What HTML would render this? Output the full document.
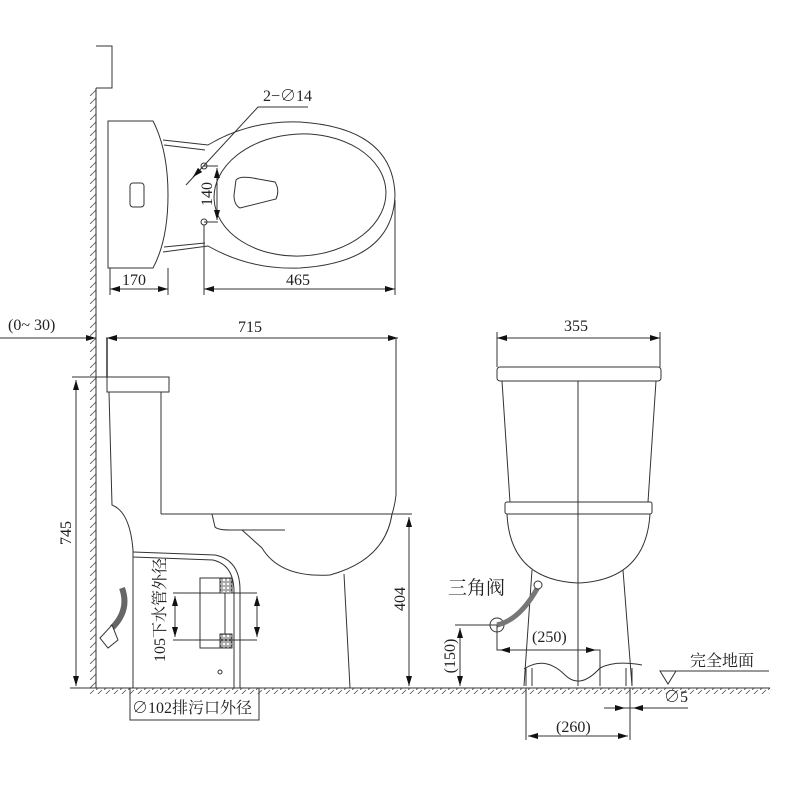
<!DOCTYPE html>
<html><head><meta charset="utf-8"><style>
html,body{margin:0;padding:0;background:#fff}
svg{display:block}
text{font-family:"Liberation Serif","Noto Serif CJK SC",serif;fill:#222}
</style></head><body>
<svg width="800" height="800" viewBox="0 0 800 800" xmlns="http://www.w3.org/2000/svg">
<defs>
<pattern id="hw" width="6" height="8" patternUnits="userSpaceOnUse"><path d="M0,8 L6,2" stroke="#555" stroke-width="0.8"/></pattern>
<pattern id="hf" width="8" height="6" patternUnits="userSpaceOnUse"><path d="M0,6 L6,0" stroke="#555" stroke-width="0.8"/></pattern>
<pattern id="mesh" width="4" height="4" patternUnits="userSpaceOnUse"><rect width="4" height="4" fill="#fff"/><circle cx="2" cy="2" r="1.2" fill="none" stroke="#333" stroke-width="0.6"/></pattern>
<marker id="a" markerWidth="10" markerHeight="6" refX="10" refY="3" orient="auto" markerUnits="userSpaceOnUse"><path d="M0,0 L10,3 L0,6z" fill="#111"/></marker>
<marker id="b" markerWidth="10" markerHeight="6" refX="0" refY="3" orient="auto" markerUnits="userSpaceOnUse"><path d="M10,0 L0,3 L10,6z" fill="#111"/></marker>
</defs>
<g fill="none" stroke="#333" stroke-width="1">
<rect x="90" y="88" width="6" height="600" fill="url(#hw)" stroke="none"/>
<line x1="96" y1="88" x2="96" y2="688"/>
<path d="M96,46 H112 V88 H96"/>
<rect x="90" y="688" width="680" height="6" fill="url(#hf)" stroke="none"/>
<line x1="90" y1="688" x2="770" y2="688"/>

<!-- TOP VIEW -->
<path d="M108,121 H153 Q168,150 168,195 Q168,240 153,268 H108 Z"/>
<rect x="130" y="183" width="14" height="24" rx="3"/>
<path d="M163,140 L208,145 Q250,120 300,122 Q393,128 395,195 Q393,262 300,268 Q250,270 208,246 L163,252"/>
<path d="M164,145 L205,150"/><path d="M164,247 L205,243"/>
<ellipse cx="300" cy="195" rx="86" ry="61" transform="rotate(-3 300 195)"/>
<path d="M236,180 Q240,175 258,179 L275,182 Q280,190 276,199 L240,208 Q234,205 234,195 Z"/>
<circle cx="204" cy="166" r="3"/><circle cx="204" cy="222" r="3"/>
<path d="M204,166 H218 M204,222 H218"/>
<line x1="217" y1="168" x2="217" y2="220" marker-start="url(#b)" marker-end="url(#a)"/>
<path d="M308,107 H258 L186,185"/>
<line x1="198" y1="172" x2="193" y2="177" marker-end="url(#a)"/>
<line x1="110" y1="268" x2="110" y2="295"/><line x1="168" y1="268" x2="168" y2="295"/>
<line x1="204" y1="225" x2="204" y2="295"/><line x1="395" y1="200" x2="395" y2="295"/>
<line x1="110" y1="289" x2="168" y2="289" marker-start="url(#b)" marker-end="url(#a)"/>
<line x1="204" y1="289" x2="395" y2="289" marker-start="url(#b)" marker-end="url(#a)"/>

<!-- SIDE VIEW -->
<line x1="0" y1="338" x2="96" y2="338"/><line x1="106" y1="338" x2="398" y2="338"/>
<line x1="86" y1="338" x2="96" y2="338" marker-end="url(#a)"/>
<line x1="118" y1="338" x2="107" y2="338" marker-end="url(#a)"/>
<line x1="107" y1="338" x2="107" y2="377" stroke-width="1.5"/>
<line x1="107" y1="338" x2="398" y2="338" marker-start="url(#b)" marker-end="url(#a)"/>
<rect x="107" y="377" width="62" height="15"/>
<path d="M109,392 L112,505 Q130,512 133,550 L133,688"/>
<path d="M161,392 V514"/>
<path d="M72,377 H107"/><line x1="76" y1="380" x2="76" y2="686" marker-start="url(#b)" marker-end="url(#a)"/>
<line x1="70" y1="688" x2="96" y2="688"/>
<path d="M161,514 H412"/>
<path d="M396,338 V495 Q395,505 392,514"/>
<path d="M392,514 Q385,560 330,575 Q280,578 262,548 L242,530"/>
<path d="M212,514 L215,527 Q218,530 230,530 H285"/>
<path d="M344,574 L350,688"/>
<line x1="409" y1="517" x2="409" y2="686" marker-start="url(#b)" marker-end="url(#a)"/>
<path d="M133,552 L215,555 Q240,560 240,590 V688"/>
<path d="M133,557 L213,560 Q234,565 234,592 V688"/>
<rect x="200" y="578" width="25" height="70"/>
<rect x="220" y="578" width="12" height="15" fill="url(#mesh)"/>
<rect x="220" y="634" width="12" height="14" fill="url(#mesh)"/>
<path d="M173,593 H257 M173,640 H257"/>
<line x1="175" y1="596" x2="175" y2="637" marker-start="url(#b)" marker-end="url(#a)"/>
<line x1="257" y1="596" x2="257" y2="637" marker-start="url(#b)" marker-end="url(#a)"/>
<circle cx="220" cy="672" r="2"/>
<path d="M130,688 V720 H259 V688"/>
<path d="M122,588 Q130,610 112,628" stroke-width="6" stroke="#666"/>
<path d="M100,638 L112,625 L118,640 L108,648 Z" fill="#fff"/>

<!-- FRONT VIEW -->
<line x1="497" y1="338" x2="660" y2="338" marker-start="url(#b)" marker-end="url(#a)"/>
<line x1="497" y1="332" x2="497" y2="367"/><line x1="660" y1="332" x2="660" y2="367"/>
<rect x="497" y="367" width="164" height="14" rx="3"/>
<path d="M502,381 L510,502 M656,381 L648,502"/>
<rect x="505" y="502" width="147" height="12" rx="2"/>
<path d="M507,514 Q510,580 578,583 Q646,580 650,514"/>
<line x1="578" y1="381" x2="578" y2="686"/>
<path d="M532,570 L524,686 M623,570 L632,686"/>
<path d="M524,669 Q545,655 565,675 Q580,690 600,668 Q615,660 642,665"/>
<path d="M526,668 V686 M532,668 V686 M626,668 V686 M632,668 V686"/>
<circle cx="497" cy="625" r="7"/>
<path d="M497,625 Q520,620 538,587" stroke-width="5" stroke="#777"/>
<circle cx="538" cy="585" r="4" fill="#fff"/>
<path d="M455,625 H497 M497,625 V650 H600 V686"/>
<line x1="460" y1="628" x2="460" y2="686" marker-start="url(#b)" marker-end="url(#a)"/>
<line x1="500" y1="650" x2="596" y2="650" marker-start="url(#b)" marker-end="url(#a)"/>
<path d="M526,688 V740 M630,688 V740"/>
<line x1="528" y1="736" x2="628" y2="736" marker-start="url(#b)" marker-end="url(#a)"/>
<path d="M604,708 H688"/>
<line x1="612" y1="708" x2="625" y2="708" marker-end="url(#a)"/>
<line x1="645" y1="708" x2="633" y2="708" marker-end="url(#a)"/>
<path d="M660,671 L668,684 L676,671 Z M660,671 H769"/>
</g>
<g font-size="16">
<text x="263" y="101">2−∅14</text>
<text x="122" y="285">170</text>
<text x="286" y="285">465</text>
<text transform="translate(212,194) rotate(-90)" text-anchor="middle">140</text>
<text x="8" y="330">(0~ 30)</text>
<text x="238" y="332">715</text>
<text x="564" y="331">355</text>
<text transform="translate(71,533) rotate(-90)" text-anchor="middle">745</text>
<text transform="translate(405,599) rotate(-90)" text-anchor="middle">404</text>
<text transform="translate(165,610) rotate(-90)" text-anchor="middle">105下水管外径</text>
<text x="132" y="713">∅102排污口外径</text>
<text x="448" y="594" font-size="19">三角阀</text>
<text x="532" y="642">(250)</text>
<text transform="translate(455,656) rotate(-90)" text-anchor="middle">(150)</text>
<text x="690" y="666">完全地面</text>
<text x="664" y="702">∅5</text>
<text x="556" y="732">(260)</text>
</g>
</svg>
</body></html>
